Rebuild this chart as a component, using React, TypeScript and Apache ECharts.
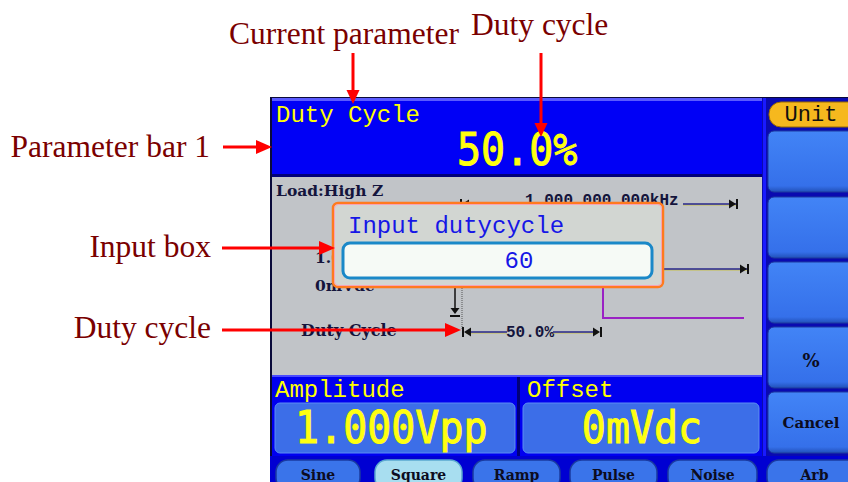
import React, { useEffect, useRef } from "react";
import * as echarts from "echarts";

// ---- content (texts / values) ----
const calloutLabels = ["Current parameter", "Duty cycle", "Parameter bar 1", "Input box", "Duty cycle"];
const softKeyLabels = ["", "", "", "%", "Cancel"];
const waveformTabs = ["Sine", "Square", "Ramp", "Pulse", "Noise", "Arb"];
const activeWaveform = "Square";
const parameterNames = ["Duty Cycle", "Amplitude", "Offset"];
const parameterValues = ["50.0%", "1.000Vpp", "0mVdc"];
const frequencyText = "1.000,000,000kHz";
const loadText = "Load:High Z";
const inputTitle = "Input dutycycle";
const inputValue = "60";
const unitLabel = "Unit";
const diagramLabels = ["1.000Vpp", "0mVdc", "Duty Cycle", "50.0%"];

const SERIF = '"Liberation Serif", "Times New Roman", serif';
const MONO = '"Liberation Mono", "DejaVu Sans Mono", monospace';
const BIGMONO = '"DejaVu Sans Mono", monospace';
const SMALL = '"DejaVu Serif", serif';
const RED = "#ff0000";
const DARKRED = "#7a0000";

function txt(x: number, y: number, text: string, font: string, fill: string, align = "left", extra: any = {}, styleExtra: any = {}) {
  return {
    type: "text",
    x,
    y,
    style: { text, font, fill, textAlign: align, textVerticalAlign: "middle", ...styleExtra },
    ...extra,
  };
}
function rect(x: number, y: number, w: number, h: number, style: any, r: number = 0) {
  return { type: "rect", shape: { x, y, width: w, height: h, r }, style };
}
function line(x1: number, y1: number, x2: number, y2: number, stroke: string, lineWidth = 1, extra: any = {}) {
  return { type: "line", shape: { x1, y1, x2, y2 }, style: { stroke, lineWidth, ...extra } };
}
function poly(points: number[][], fill: string) {
  return { type: "polygon", shape: { points }, style: { fill } };
}

// dimension line with yellow fringe
function dimLine(x1: number, x2: number, y: number) {
  return [line(x1, y + 1, x2, y + 1, "#c8c048", 1), line(x1, y, x2, y, "#26268c", 1.4)];
}
function leftMarker(x: number, y: number) {
  return [line(x, y - 5, x, y + 5, "#111", 2), poly([[x + 1, y], [x + 8, y - 4.5], [x + 8, y + 4.5]], "#111")];
}
function rightMarker(x: number, y: number) {
  return [line(x, y - 5, x, y + 5, "#111", 2), poly([[x - 1, y], [x - 8, y - 4.5], [x - 8, y + 4.5]], "#111")];
}
function redArrowH(x1: number, x2: number, y: number) {
  return [line(x1, y, x2 - 14, y, RED, 3), poly([[x2 - 16, y - 7], [x2 - 16, y + 7], [x2, y]], RED)];
}
function redArrowV(x: number, y1: number, y2: number) {
  return [line(x, y1, x, y2 - 12, RED, 3), poly([[x - 6.5, y2 - 14], [x + 6.5, y2 - 14], [x, y2]], RED)];
}

const BIG_STYLE = { stroke: "#ffff10", lineWidth: 0.9 };

function buildGraphics() {
  const g: any[] = [];

  // ---------- screen frame ----------
  g.push(rect(270, 97, 578, 385, { fill: "#0a0a3a" }));
  // top parameter bar
  g.push(rect(272, 98, 490, 76, { fill: "#0000f6" }));
  g.push(rect(272, 98, 490, 3, { fill: "#5a5aff" }));
  g.push(rect(272, 174, 490, 3, { fill: "#00007a" }));
  // gray display area
  g.push(rect(272, 177, 490, 198, { fill: "#c1c4c8" }));

  // right soft-key column
  g.push(rect(762, 98, 86, 358, { fill: "#0a0ab0" }));
  g.push(rect(763, 98, 3, 358, { fill: "#1a1aff" }));
  g.push(rect(769, 102, 95, 25, { fill: "#f6b81e", stroke: "#9a6a00", lineWidth: 1 }, 12));
  g.push(txt(811, 115, unitLabel, "22px " + MONO, "#101010", "center"));
  const keyTops = [131, 197, 262, 327, 392];
  keyTops.forEach((top, i) => {
    g.push(
      rect(768, top, 95, 61, {
        fill: new echarts.graphic.LinearGradient(0, 0, 0, 1, [
          { offset: 0, color: "#4284f6" },
          { offset: 0.9, color: "#3570ea" },
          { offset: 1, color: "#2150b8" },
        ]),
        stroke: "#1c3aa0",
        lineWidth: 1,
      }, 6)
    );
    if (softKeyLabels[i]) {
      const isPct = softKeyLabels[i] === "%";
      g.push(txt(811, top + (isPct ? 33 : 31), softKeyLabels[i], "bold " + (isPct ? 18 : 15) + "px " + SMALL, "#0c0c20", "center"));
    }
  });

  // bottom parameter bars
  g.push(rect(272, 375, 490, 81, { fill: "#0000f0" }));
  g.push(rect(272, 375, 490, 2, { fill: "#4a4aff" }));
  g.push(rect(517, 377, 3, 79, { fill: "#00007a" }));
  g.push(rect(275, 403, 240, 50, { fill: "#3c6ee8", stroke: "#5d8cf4", lineWidth: 1 }, 5));
  g.push(rect(523, 403, 236, 50, { fill: "#3c6ee8", stroke: "#5d8cf4", lineWidth: 1 }, 5));

  // waveform tab bar
  g.push(rect(270, 456, 578, 26, { fill: "#0000d2" }));
  const tabSpans = [[276, 360], [375, 462], [473, 560], [570, 657], [668, 757], [767, 862]];
  waveformTabs.forEach((name, i) => {
    const [a, b] = tabSpans[i];
    const active = name === activeWaveform;
    g.push(rect(a, 460, b - a, 30, { fill: active ? "#a8def0" : "#3a74ea", stroke: active ? "#5aa8d0" : "#1a3aa0", lineWidth: 1.5 }, 12));
    g.push(txt((a + b) / 2, 475, name, "bold 14px " + SMALL, "#0c0c20", "center"));
  });

  // ---------- top parameter bar text ----------
  g.push(txt(276, 115, parameterNames[0], "24px " + MONO, "#ffff00"));
  g.push(txt(457, 149, parameterValues[0], "40px " + BIGMONO, "#ffff10", "left", { scaleY: 1.13 }, BIG_STYLE));

  // ---------- bottom parameter text ----------
  g.push(txt(275, 390, parameterNames[1], "24px " + MONO, "#ffff00"));
  g.push(txt(527, 390, parameterNames[2], "24px " + MONO, "#ffff00"));
  g.push(txt(295, 427, parameterValues[1], "40px " + BIGMONO, "#ffff10", "left", { scaleY: 1.13 }, BIG_STYLE));
  g.push(txt(642, 427, parameterValues[2], "40px " + BIGMONO, "#ffff10", "center", { scaleY: 1.13 }, BIG_STYLE));

  // ---------- gray area diagram ----------
  g.push(txt(276, 190, loadText, "bold 15.5px " + SMALL, "#14143c"));
  // frequency dimension
  g.push(...dimLine(463, 522, 204));
  g.push(...leftMarker(461, 204));
  g.push(txt(525, 201, frequencyText, "bold 16px " + MONO, "#14143c"));
  g.push(...dimLine(683, 736, 204));
  g.push(...rightMarker(737, 204));
  // amplitude dimension
  g.push(txt(315, 257, diagramLabels[0], "bold 15.5px " + SMALL, "#14143c"));
  g.push(...dimLine(560, 747, 269));
  g.push(...rightMarker(748, 269));
  // offset
  g.push(txt(315, 285, diagramLabels[1], "bold 15.5px " + SMALL, "#14143c"));
  g.push(line(455, 280, 455, 309, "#111", 1.5));
  g.push(poly([[450.5, 308], [459.5, 308], [455, 314]], "#111"));
  g.push(line(450, 316, 460, 316, "#111", 2));
  // dotted reference
  g.push(line(462, 280, 462, 330, "#555", 1, { lineDash: [1, 1] }));
  // square wave (purple)
  g.push({
    type: "polyline",
    shape: { points: [[470, 240], [603, 240], [603, 318], [744, 318]] },
    style: { stroke: "#9a22c4", lineWidth: 2, fill: null },
  });
  // duty cycle dimension
  g.push(txt(301, 330, diagramLabels[2], "bold 16px " + SMALL, "#14143c"));
  g.push(...dimLine(466, 507, 332));
  g.push(...leftMarker(463, 332));
  g.push(txt(530, 333, diagramLabels[3], "bold 16px " + MONO, "#14143c", "center"));
  g.push(...dimLine(553, 598, 332));
  g.push(...rightMarker(601, 332));

  // ---------- input box ----------
  g.push(rect(333, 203, 330, 84, { fill: "#d2d6d2", stroke: "#ff7a1e", lineWidth: 2.5 }, 5));
  g.push(rect(334.5, 204.5, 327, 81, { fill: null, stroke: "#ff9ab8", lineWidth: 0.8 }, 4));
  g.push(txt(348, 226, inputTitle, "24px " + MONO, "#1616e6"));
  g.push(rect(343, 243, 309, 35, { fill: "#f6faf6", stroke: "#1a88c8", lineWidth: 3 }, 7));
  g.push(txt(519, 261, inputValue, "24px " + MONO, "#1616e6", "center"));

  // ---------- callouts ----------
  g.push(txt(229, 33, calloutLabels[0], "31.5px " + SERIF, DARKRED));
  g.push(...redArrowV(353, 53, 104));
  g.push(txt(471, 24, calloutLabels[1], "31.5px " + SERIF, DARKRED));
  g.push(...redArrowV(541, 53, 137));
  g.push(txt(210, 146, calloutLabels[2], "31.5px " + SERIF, DARKRED, "right"));
  g.push(...redArrowH(223, 272, 147));
  g.push(txt(211, 246, calloutLabels[3], "31.5px " + SERIF, DARKRED, "right"));
  g.push(...redArrowH(222, 335, 248));
  g.push(txt(211, 327, calloutLabels[4], "31.5px " + SERIF, DARKRED, "right"));
  g.push(...redArrowH(222, 461, 330));

  return g.map((el, i) => ({ ...el, z: 1, z2: i }));
}

export default function App() {
  const ref = useRef<HTMLDivElement>(null);
  useEffect(() => {
    document.body.style.margin = "0";
    if (!ref.current) return;
    const chart = echarts.init(ref.current, null, { renderer: "svg" });
    chart.setOption({
      animation: false,
      backgroundColor: "#ffffff",
      graphic: { elements: buildGraphics() },
    });
    return () => chart.dispose();
  }, []);
  return <div ref={ref} style={{ width: 848, height: 482 }} />;
}
